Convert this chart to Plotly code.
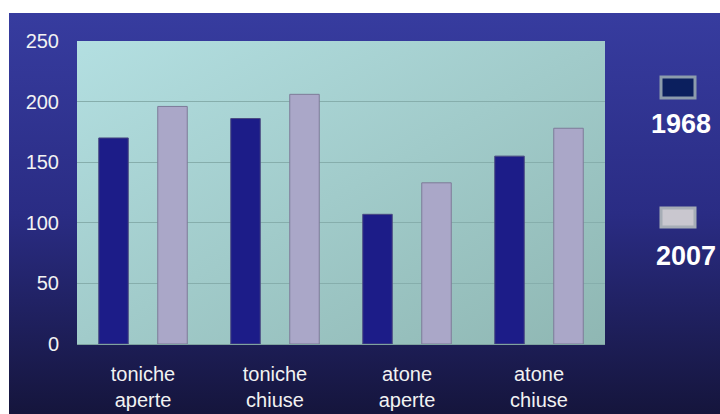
import base64
import plotly.graph_objects as go

categories = ["toniche<br>aperte", "toniche<br>chiuse", "atone<br>aperte", "atone<br>chiuse"]
series_names = ["1968", "2007"]
values_1968 = [170, 186, 107, 155]
values_2007 = [196, 206, 133, 178]
y_ticks = [0, 50, 100, 150, 200, 250]

COL_1968 = "#1c1c88"
COL_2007 = "#aaa7c8"

W, H = 720, 414
ML, MR, MT, MB = 77, 115, 41, 70
PW, PH = W - ML - MR, H - MT - MB


def px_x(p):
    return (p - ML) / PW


def px_y(p):
    return (H - MB - p) / PH


def svg_uri(svg):
    return "data:image/svg+xml;base64," + base64.b64encode(svg.encode()).decode()


bg_svg = (
    '<svg xmlns="http://www.w3.org/2000/svg" width="100" height="100" preserveAspectRatio="none">'
    '<defs><linearGradient id="g" x1="0" y1="0" x2="0" y2="1">'
    '<stop offset="0" stop-color="#373c9f"/><stop offset="0.5" stop-color="#2a2c84"/>'
    '<stop offset="1" stop-color="#15153c"/></linearGradient></defs>'
    '<rect width="100" height="100" fill="url(#g)"/></svg>'
)
plot_svg = (
    '<svg xmlns="http://www.w3.org/2000/svg" width="100" height="100" preserveAspectRatio="none">'
    '<defs><linearGradient id="g" x1="0" y1="0" x2="1" y2="1">'
    '<stop offset="0" stop-color="#b3dfe1"/><stop offset="1" stop-color="#8fb7b3"/>'
    '</linearGradient></defs>'
    '<rect width="100" height="100" fill="url(#g)"/></svg>'
)

fig = go.Figure()
fig.add_trace(go.Bar(
    x=categories, y=values_1968, name=series_names[0],
    marker=dict(color=COL_1968, line=dict(color="#4a4a80", width=1)),
))
fig.add_trace(go.Bar(
    x=categories, y=values_2007, name=series_names[1],
    marker=dict(color=COL_2007, line=dict(color="#7d7b98", width=1)),
))

images = [
    dict(source=svg_uri(bg_svg), xref="paper", yref="paper",
         x=px_x(9), y=px_y(13), sizex=px_x(W) - px_x(9), sizey=px_y(13) - px_y(H),
         xanchor="left", yanchor="top", sizing="stretch", layer="below"),
    dict(source=svg_uri(plot_svg), xref="paper", yref="paper",
         x=0, y=1, sizex=1, sizey=1,
         xanchor="left", yanchor="top", sizing="stretch", layer="below"),
]

shapes = [
    dict(type="rect", xref="paper", yref="paper",
         x0=px_x(661), x1=px_x(695), y0=px_y(98), y1=px_y(77),
         fillcolor="#0b1f5e", line=dict(color="#8c9cac", width=3), layer="above"),
    dict(type="rect", xref="paper", yref="paper",
         x0=px_x(661), x1=px_x(695), y0=px_y(227), y1=px_y(208),
         fillcolor="#c9c7cf", line=dict(color="#a6adb6", width=3), layer="above"),
]

annotations = [
    dict(text="<b>" + series_names[0] + "</b>", xref="paper", yref="paper",
         x=px_x(681), y=px_y(124), showarrow=False, xanchor="center", yanchor="middle",
         font=dict(family="Liberation Sans, Arial", size=27, color="#ffffff")),
    dict(text="<b>" + series_names[1] + "</b>", xref="paper", yref="paper",
         x=px_x(686), y=px_y(256), showarrow=False, xanchor="center", yanchor="middle",
         font=dict(family="Liberation Sans, Arial", size=27, color="#ffffff")),
]

fig.update_layout(
    width=W, height=H,
    margin=dict(l=ML, r=MR, t=MT, b=MB, pad=0, autoexpand=False),
    paper_bgcolor="#ffffff",
    plot_bgcolor="rgba(0,0,0,0)",
    barmode="group",
    bargap=0.106,
    bargroupgap=0.5,
    showlegend=False,
    images=images,
    shapes=shapes,
    annotations=annotations,
    font=dict(family="Liberation Sans, Arial", color="#f2f2f2"),
)
fig.update_yaxes(
    range=[0, 250], tickvals=y_ticks, showgrid=True, gridcolor="#86aeac", gridwidth=1,
    zeroline=False, showline=False, ticks="", ticklabelstandoff=17, automargin=False,
    tickfont=dict(size=20, color="#f2f2f2"),
)
fig.update_xaxes(
    showgrid=False, showline=True, linecolor="#7fa3a0", linewidth=1, ticks="",
    ticklabelstandoff=12, automargin=False, tickfont=dict(size=20, color="#f2f2f2"),
)

fig.write_html("out.html")
